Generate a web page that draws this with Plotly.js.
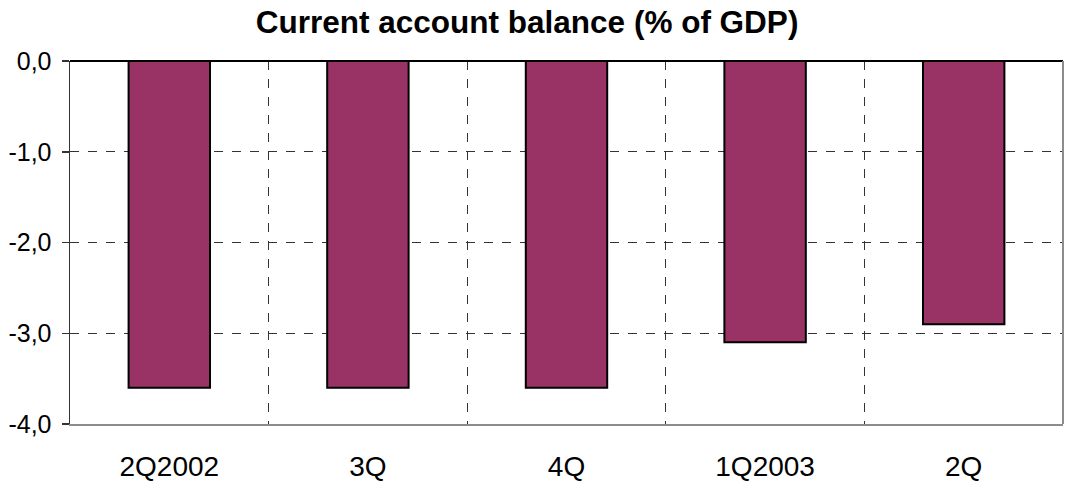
<!DOCTYPE html>
<html><head><meta charset="utf-8">
<script src="https://cdn.plot.ly/plotly-3.0.1.min.js"></script>
<style>body{margin:0;padding:0;}#chart{width:1067px;height:484px;}</style>
</head><body><div id="chart"></div>
<script>
const categories = ["2Q2002", "3Q", "4Q", "1Q2003", "2Q"];
const balance = [-3.6, -3.6, -3.6, -3.1, -2.9];
const yTicks = [0, -1, -2, -3, -4];
const yTickLabels = ["0,0", "-1,0", "-2,0", "-3,0", "-4,0"];

const idx = categories.map((c, i) => i);
const boundaries = idx.slice(1).map(i => i - 0.5);

const data = [{
  type: 'bar',
  x: idx,
  y: balance,
  marker: {color: '#993366', line: {color: '#000000', width: 2}},
  hoverinfo: 'y'
}, {
  type: 'scatter', x: [], y: [], xaxis: 'x2', showlegend: false
}];

const layout = {
  width: 1067, height: 484,
  margin: {l: 70, r: 4, t: 61, b: 60},
  paper_bgcolor: '#ffffff', plot_bgcolor: '#ffffff',
  showlegend: false,
  bargap: 0.59,
  title: {text: '<b>Current account balance (% of GDP)</b>', x: 0.494, xanchor: 'center', y: 0.955, yanchor: 'middle',
          font: {family: 'Liberation Sans, Arial, sans-serif', size: 31.5, color: '#000'}},
  font: {family: 'Liberation Sans, Arial, sans-serif', size: 24, color: '#000'},
  xaxis: {
    range: [-0.5, categories.length - 0.5],
    tickvals: idx, ticktext: categories,
    showgrid: false, zeroline: false,
    showline: true, linecolor: '#8c8c8c', linewidth: 2,
    ticks: '', ticklabelstandoff: 16,
    tickfont: {size: 28}
  },
  xaxis2: {
    overlaying: 'x', range: [-0.5, categories.length - 0.5],
    tickvals: boundaries, showticklabels: false, ticks: '',
    showgrid: true, gridcolor: '#333333', griddash: 'dash', gridwidth: 1,
    zeroline: false, showline: false
  },
  yaxis: {
    range: [-4, 0],
    tickvals: yTicks, ticktext: yTickLabels,
    showgrid: true, gridcolor: '#333333', griddash: 'dash', gridwidth: 1,
    zeroline: true, zerolinecolor: '#000000', zerolinewidth: 1.5,
    showline: true, linecolor: '#333333', linewidth: 1.5,
    ticks: 'outside', ticklen: 7, tickcolor: '#333333', tickwidth: 1.5,
    ticklabelstandoff: 5,
    tickfont: {size: 25}
  },
  shapes: [{type: 'line', xref: 'paper', yref: 'paper', x0: 1, x1: 1, y0: 0, y1: 1,
            line: {color: '#8c8c8c', width: 2}, layer: 'above'}]
};

Plotly.newPlot('chart', data, layout, {displayModeBar: false, staticPlot: true});
</script></body></html>
